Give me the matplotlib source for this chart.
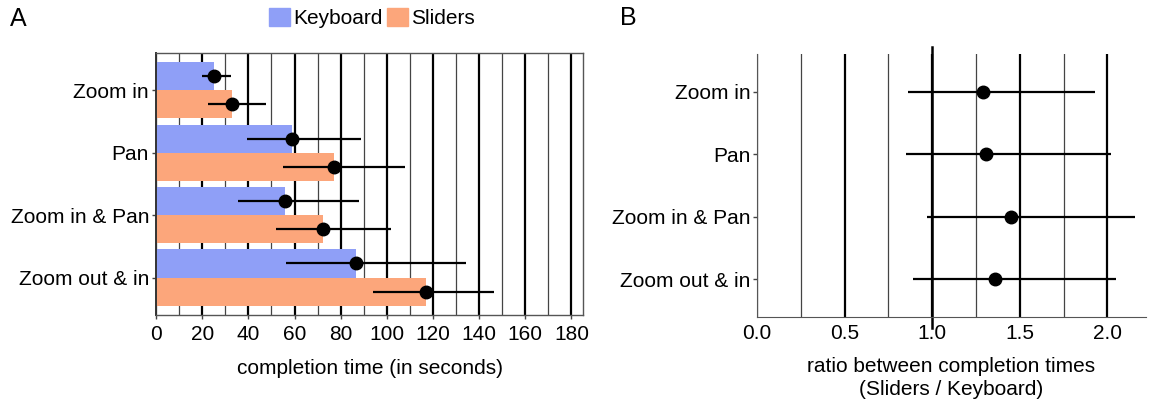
import matplotlib
matplotlib.use("Agg")
import matplotlib.pyplot as plt
import numpy as np
from matplotlib.patches import Patch
from matplotlib.lines import Line2D
from matplotlib.ticker import MultipleLocator, FormatStrFormatter

plt.rcParams['font.family'] = ['Liberation Sans', 'DejaVu Sans']

# data
tasks = ["Zoom in", "Pan", "Zoom in & Pan", "Zoom out & in"]
keyboard_mean = [25.3, 59.0, 55.8, 86.8]
keyboard_lo = [19.8, 39.2, 35.4, 56.3]
keyboard_hi = [32.5, 88.9, 88.1, 134.5]
sliders_mean = [32.8, 77.0, 72.5, 117.1]
sliders_lo = [22.7, 55.0, 52.0, 94.2]
sliders_hi = [47.5, 108.0, 101.7, 146.4]

ratio_mean = [1.29, 1.31, 1.45, 1.36]
ratio_lo = [0.86, 0.85, 0.97, 0.89]
ratio_hi = [1.93, 2.02, 2.16, 2.05]

kb_color = "#8f9ff7"
sl_color = "#fca67b"
fs = 15

fig = plt.figure(figsize=(11.49, 4.07), dpi=100)
axA = fig.add_axes([0.1358, 0.226, 0.3716, 0.6445])
axB = fig.add_axes([0.659, 0.2211, 0.3382, 0.6459])

pos = np.arange(1, len(tasks) + 1)
h = 0.45

# panel A
axA.set_axisbelow(True)
axA.barh(pos - h / 2, keyboard_mean, height=h, color=kb_color, zorder=2)
axA.barh(pos + h / 2, sliders_mean, height=h, color=sl_color, zorder=2)
for off, m, lo, hi in [(-h / 2, keyboard_mean, keyboard_lo, keyboard_hi),
                       (h / 2, sliders_mean, sliders_lo, sliders_hi)]:
    axA.hlines(pos + off, lo, hi, color="black", lw=1.6, zorder=3)
    axA.plot(m, pos + off, "o", color="black", ms=9, zorder=4)

axA.set_xlim(0, 185)
axA.set_ylim(4.6, 0.4)
axA.xaxis.set_major_locator(MultipleLocator(20))
axA.xaxis.set_minor_locator(MultipleLocator(10))
axA.grid(True, axis="x", which="major", color="black", lw=1.6)
axA.grid(True, axis="x", which="minor", color="#444444", lw=0.9)
axA.set_yticks(pos)
axA.set_yticklabels(tasks)
axA.tick_params(axis="both", which="major", labelsize=fs, length=3, width=1,
                color="#444444", pad=2)
axA.tick_params(axis="x", which="major", pad=4)
axA.tick_params(which="minor", length=0)
for s in axA.spines.values():
    s.set_color("#555555")
    s.set_linewidth(1.0)
axA.spines["left"].set_color("#333333")
axA.spines["left"].set_linewidth(1.4)
axA.set_xlabel("completion time (in seconds)", fontsize=fs, labelpad=11)

# panel B
axB.set_axisbelow(True)
axB.hlines(pos, ratio_lo, ratio_hi, color="black", lw=1.6, zorder=3)
axB.plot(ratio_mean, pos, "o", color="black", ms=9, zorder=4)
axB.set_xlim(0, 2.22)
axB.set_ylim(4.6, 0.4)
axB.xaxis.set_major_locator(MultipleLocator(0.5))
axB.xaxis.set_minor_locator(MultipleLocator(0.25))
axB.xaxis.set_major_formatter(FormatStrFormatter("%.1f"))
axB.grid(True, axis="x", which="major", color="black", lw=1.6)
axB.grid(True, axis="x", which="minor", color="#444444", lw=0.9)
axB.set_yticks(pos)
axB.set_yticklabels(tasks)
axB.tick_params(axis="both", which="major", labelsize=fs, length=3, width=1,
                color="#444444", pad=2)
axB.tick_params(axis="x", which="major", length=0, pad=5)
axB.tick_params(which="minor", length=0)
axB.spines["top"].set_visible(False)
axB.spines["right"].set_visible(False)
axB.spines["left"].set_color("#555555")
axB.spines["bottom"].set_color("#555555")
axB.add_line(Line2D([1.0, 1.0], [-0.04, 1.027], color="black", lw=1.8,
                    transform=axB.get_xaxis_transform(), clip_on=False, zorder=2))
axB.set_xlabel("ratio between completion times\n(Sliders / Keyboard)",
               fontsize=fs, labelpad=10, linespacing=1.3)

# legend and panel letters
fig.legend(handles=[Patch(color=kb_color, label="Keyboard"),
                    Patch(color=sl_color, label="Sliders")],
           loc="center", bbox_to_anchor=(372 / 1149, 1 - 18 / 407), ncol=2,
           frameon=False, fontsize=fs, handlelength=1.0, handleheight=1.0,
           handletextpad=0.15, columnspacing=0.2, borderpad=0)
fig.text(10 / 1149, 1 - 19 / 407, "A", fontsize=18, va="center", ha="left")
fig.text(620 / 1149, 1 - 18 / 407, "B", fontsize=18, va="center", ha="left")

fig.savefig("out.png", dpi=100)
